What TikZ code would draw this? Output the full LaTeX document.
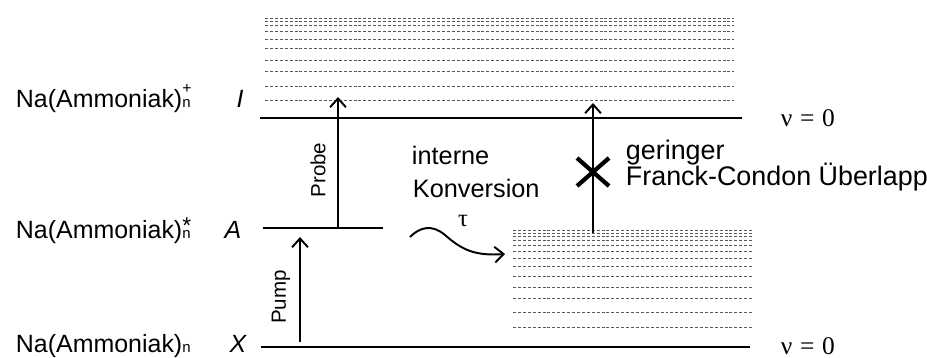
\documentclass[tikz,border=0pt]{standalone}
\usepackage{fontspec}
\setmainfont{Liberation Sans}
\newfontfamily\symfont{Liberation Serif}
\usetikzlibrary{arrows.meta}
% Cluster: Index n, darueber Ladung bzw. Anregung
\newcommand{\clsub}[3]{\rlap{\raisebox{#2}{\fontsize{#3}{#3}\selectfont #1}}{\fontsize{8.5}{9}\selectfont n}}
\tikzset{
  every picture/.style={line width=1.1pt, line cap=butt,
    >={Straight Barb[length=5pt,width=9pt]}},
  every node/.style={font=\fontsize{14.2}{17}\selectfont, inner sep=0pt},
  % Niveaus
  level/.style={line width=1.2pt},
  vib/.style={black!65, line width=0.55pt, dash pattern=on 1.7pt off 1.1pt},
  beam/.style={->, line width=1.1pt},
  % Beschriftung
  lbl/.style={anchor=base west},
  big/.style={font=\fontsize{15.3}{18}\selectfont},
  state/.style={anchor=base, font=\fontsize{14.2}{17}\selectfont\itshape},
  vz/.style={anchor=base west, font=\fontsize{14.5}{16}\selectfont\symfont},
  rot/.style={rotate=90, font=\fontsize{11.7}{14}\selectfont},
}
\begin{document}
\begin{tikzpicture}[x=0.02cm, y=-0.02cm]
  \useasboundingbox (0,0) rectangle (927,358);
  % Schwingungsniveaus
  \foreach \y in {18,21,25.5,31.5,39,48.5,60,71,86,100}
    \draw[vib] (265,\y) -- (734,\y);
  \foreach \y in {230,233,236,240,245,251,258,266,276,287,298,312,327}
    \draw[vib] (513,\y) -- (753,\y);
  % elektronische Zustaende
  \draw[level] (260,118) -- (742,118);
  \draw[level] (263,228) -- (383,228);
  \draw[level] (261,347) -- (750,347);
  % Beschriftung links
  \node[lbl] (ion) at (15,108) {Na(Ammoniak)\clsub{+}{8.1pt}{9}};
  \node[lbl] (exc) at (15,238) {Na(Ammoniak)\clsub{*}{2.6pt}{13}};
  \node[lbl] (gnd) at (15,352) {Na(Ammoniak)\clsub{}{0pt}{9}};
  \node[state] (sI) at (240,108) {I};
  \node[state] (sA) at (233,238) {A};
  \node[state] (sX) at (238,352) {X};
  \node[vz] (v1) at (780,127) {ν\hspace{0.3em}=\hspace{0.3em}0};
  \node[vz] (v0) at (780,354) {ν\hspace{0.3em}=\hspace{0.3em}0};
  % Uebergaenge
  \coordinate (pumpA) at (300,342);
  \coordinate (pumpE) at (300,237);
  \coordinate (probeA) at (338,228);
  \coordinate (probeE) at (338,97);
  \coordinate (fcA) at (593,233);
  \coordinate (fcE) at (593,103);
  \coordinate (fcX) at (593,172);
  \draw[beam] (pumpA) -- (pumpE);
  \draw[beam] (probeA) -- (probeE);
  \draw[beam] (fcA) -- (fcE);
  \node[rot] (pump) at (281,297) {Pump};
  \node[rot] (probe) at (318,170) {Probe};
  \draw[line width=2.4pt] (fcX) ++(-16,-14) -- ++(32,28);
  \draw[line width=2.4pt] (fcX) ++(-16,14) -- ++(32,-28);
  % interne Konversion
  \coordinate (icA) at (410,237);
  \coordinate (icE) at (505,254);
  \draw[beam] (icA) .. controls (420,227) and (432,224) .. (445,235)
    .. controls (462,250) and (475,256) .. (icE);
  \node[lbl, font=\fontsize{14.4}{17}\selectfont] (ic1) at (411,165) {interne};
  \node[lbl, font=\fontsize{14.4}{17}\selectfont] (ic2) at (412,197) {Konversion};
  \node[anchor=base, font=\fontsize{14}{16}\selectfont\symfont] (tau) at (463,227) {τ};
  \node[lbl, big] (fc1) at (625,160) {geringer};
  \node[lbl, big] (fc2) at (625,186) {Franck-Condon Überlapp};
\end{tikzpicture}
\end{document}
